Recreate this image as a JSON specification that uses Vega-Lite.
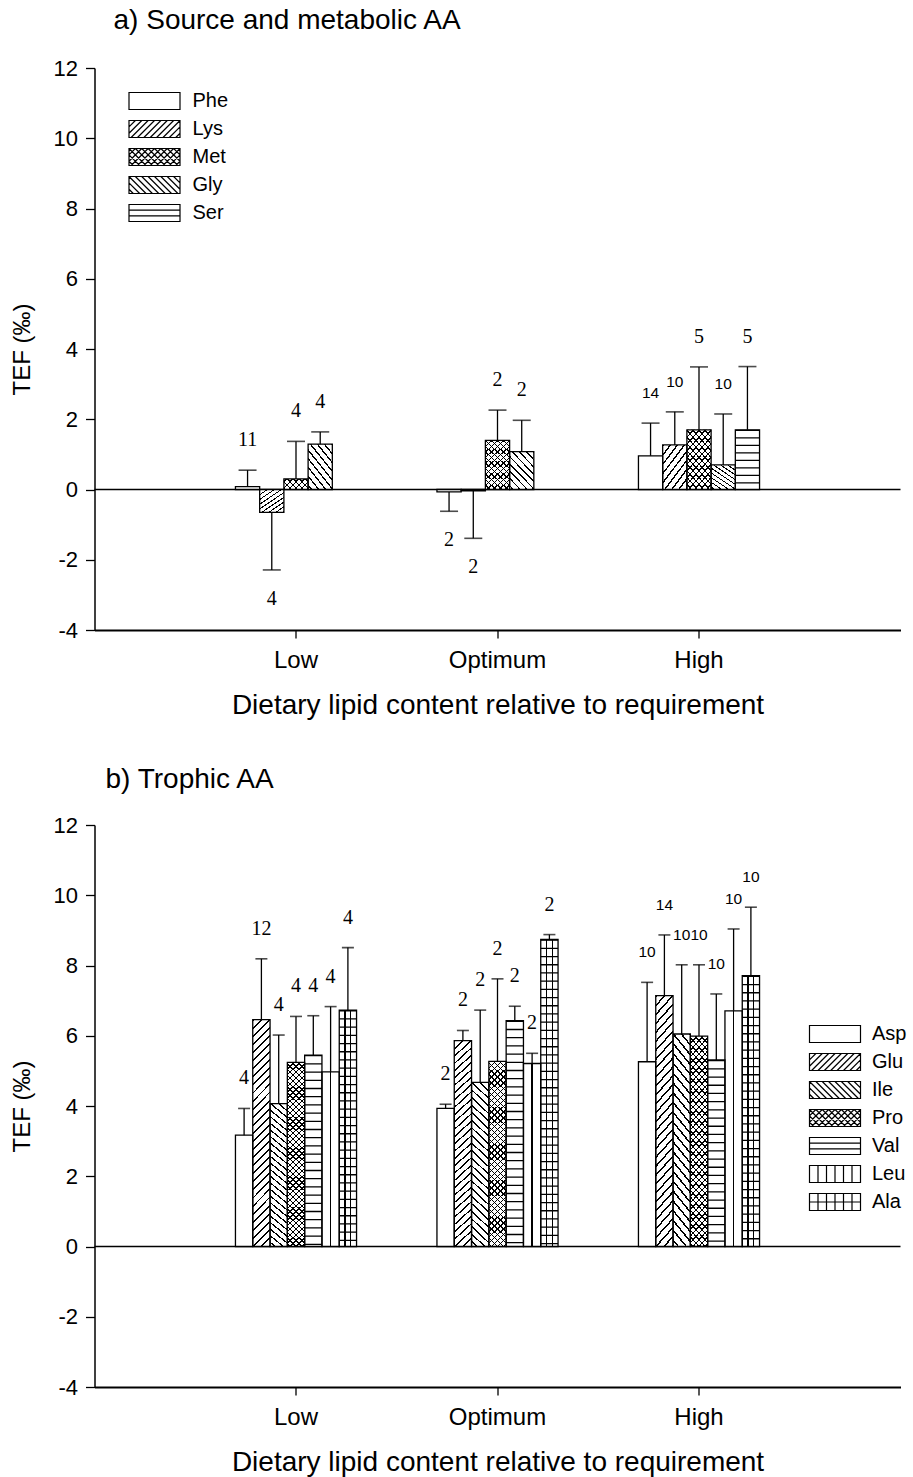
{
  "$schema": "https://vega.github.io/schema/vega-lite/v6.json",
  "padding": {"left": 9.5, "top": 7, "right": 2, "bottom": 1},
  "spacing": 47,
  "config": {
    "view": {"stroke": null},
    "font": "Liberation Sans",
    "axis": {"domainColor": "black", "tickColor": "black", "labelColor": "black", "titleColor": "black", "grid": false, "labelFont": "Liberation Sans", "titleFont": "Liberation Sans", "titleFontWeight": "normal"},
    "legend": {"labelFont": "Liberation Sans", "labelColor": "black"},
    "title": {"font": "Liberation Sans", "fontWeight": "normal", "color": "black"}
  },
  "params": [
    {"name": "hatch", "value": [
      {"offset": 0, "color": "#000"}, {"offset": 0.006, "color": "#000"}, {"offset": 0.006, "color": "transparent"}, {"offset": 0.025, "color": "transparent"},
      {"offset": 0.025, "color": "#000"}, {"offset": 0.031, "color": "#000"}, {"offset": 0.031, "color": "transparent"}, {"offset": 0.05, "color": "transparent"},
      {"offset": 0.05, "color": "#000"}, {"offset": 0.056, "color": "#000"}, {"offset": 0.056, "color": "transparent"}, {"offset": 0.075, "color": "transparent"},
      {"offset": 0.075, "color": "#000"}, {"offset": 0.081, "color": "#000"}, {"offset": 0.081, "color": "transparent"}, {"offset": 0.1, "color": "transparent"},
      {"offset": 0.1, "color": "#000"}, {"offset": 0.106, "color": "#000"}, {"offset": 0.106, "color": "transparent"}, {"offset": 0.125, "color": "transparent"},
      {"offset": 0.125, "color": "#000"}, {"offset": 0.131, "color": "#000"}, {"offset": 0.131, "color": "transparent"}, {"offset": 0.15, "color": "transparent"},
      {"offset": 0.15, "color": "#000"}, {"offset": 0.156, "color": "#000"}, {"offset": 0.156, "color": "transparent"}, {"offset": 0.175, "color": "transparent"},
      {"offset": 0.175, "color": "#000"}, {"offset": 0.181, "color": "#000"}, {"offset": 0.181, "color": "transparent"}, {"offset": 0.2, "color": "transparent"},
      {"offset": 0.2, "color": "#000"}, {"offset": 0.206, "color": "#000"}, {"offset": 0.206, "color": "transparent"}, {"offset": 0.225, "color": "transparent"},
      {"offset": 0.225, "color": "#000"}, {"offset": 0.231, "color": "#000"}, {"offset": 0.231, "color": "transparent"}, {"offset": 0.25, "color": "transparent"},
      {"offset": 0.25, "color": "#000"}, {"offset": 0.256, "color": "#000"}, {"offset": 0.256, "color": "transparent"}, {"offset": 0.275, "color": "transparent"},
      {"offset": 0.275, "color": "#000"}, {"offset": 0.281, "color": "#000"}, {"offset": 0.281, "color": "transparent"}, {"offset": 0.3, "color": "transparent"},
      {"offset": 0.3, "color": "#000"}, {"offset": 0.306, "color": "#000"}, {"offset": 0.306, "color": "transparent"}, {"offset": 0.325, "color": "transparent"},
      {"offset": 0.325, "color": "#000"}, {"offset": 0.331, "color": "#000"}, {"offset": 0.331, "color": "transparent"}, {"offset": 0.35, "color": "transparent"},
      {"offset": 0.35, "color": "#000"}, {"offset": 0.356, "color": "#000"}, {"offset": 0.356, "color": "transparent"}, {"offset": 0.375, "color": "transparent"},
      {"offset": 0.375, "color": "#000"}, {"offset": 0.381, "color": "#000"}, {"offset": 0.381, "color": "transparent"}, {"offset": 0.4, "color": "transparent"},
      {"offset": 0.4, "color": "#000"}, {"offset": 0.406, "color": "#000"}, {"offset": 0.406, "color": "transparent"}, {"offset": 0.425, "color": "transparent"},
      {"offset": 0.425, "color": "#000"}, {"offset": 0.431, "color": "#000"}, {"offset": 0.431, "color": "transparent"}, {"offset": 0.45, "color": "transparent"},
      {"offset": 0.45, "color": "#000"}, {"offset": 0.456, "color": "#000"}, {"offset": 0.456, "color": "transparent"}, {"offset": 0.475, "color": "transparent"},
      {"offset": 0.475, "color": "#000"}, {"offset": 0.481, "color": "#000"}, {"offset": 0.481, "color": "transparent"}, {"offset": 0.5, "color": "transparent"},
      {"offset": 0.5, "color": "#000"}, {"offset": 0.506, "color": "#000"}, {"offset": 0.506, "color": "transparent"}, {"offset": 0.525, "color": "transparent"},
      {"offset": 0.525, "color": "#000"}, {"offset": 0.531, "color": "#000"}, {"offset": 0.531, "color": "transparent"}, {"offset": 0.55, "color": "transparent"},
      {"offset": 0.55, "color": "#000"}, {"offset": 0.556, "color": "#000"}, {"offset": 0.556, "color": "transparent"}, {"offset": 0.575, "color": "transparent"},
      {"offset": 0.575, "color": "#000"}, {"offset": 0.581, "color": "#000"}, {"offset": 0.581, "color": "transparent"}, {"offset": 0.6, "color": "transparent"},
      {"offset": 0.6, "color": "#000"}, {"offset": 0.606, "color": "#000"}, {"offset": 0.606, "color": "transparent"}, {"offset": 0.625, "color": "transparent"},
      {"offset": 0.625, "color": "#000"}, {"offset": 0.631, "color": "#000"}, {"offset": 0.631, "color": "transparent"}, {"offset": 0.65, "color": "transparent"},
      {"offset": 0.65, "color": "#000"}, {"offset": 0.656, "color": "#000"}, {"offset": 0.656, "color": "transparent"}, {"offset": 0.675, "color": "transparent"},
      {"offset": 0.675, "color": "#000"}, {"offset": 0.681, "color": "#000"}, {"offset": 0.681, "color": "transparent"}, {"offset": 0.7, "color": "transparent"},
      {"offset": 0.7, "color": "#000"}, {"offset": 0.706, "color": "#000"}, {"offset": 0.706, "color": "transparent"}, {"offset": 0.725, "color": "transparent"},
      {"offset": 0.725, "color": "#000"}, {"offset": 0.731, "color": "#000"}, {"offset": 0.731, "color": "transparent"}, {"offset": 0.75, "color": "transparent"},
      {"offset": 0.75, "color": "#000"}, {"offset": 0.756, "color": "#000"}, {"offset": 0.756, "color": "transparent"}, {"offset": 0.775, "color": "transparent"},
      {"offset": 0.775, "color": "#000"}, {"offset": 0.781, "color": "#000"}, {"offset": 0.781, "color": "transparent"}, {"offset": 0.8, "color": "transparent"},
      {"offset": 0.8, "color": "#000"}, {"offset": 0.806, "color": "#000"}, {"offset": 0.806, "color": "transparent"}, {"offset": 0.825, "color": "transparent"},
      {"offset": 0.825, "color": "#000"}, {"offset": 0.831, "color": "#000"}, {"offset": 0.831, "color": "transparent"}, {"offset": 0.85, "color": "transparent"},
      {"offset": 0.85, "color": "#000"}, {"offset": 0.856, "color": "#000"}, {"offset": 0.856, "color": "transparent"}, {"offset": 0.875, "color": "transparent"},
      {"offset": 0.875, "color": "#000"}, {"offset": 0.881, "color": "#000"}, {"offset": 0.881, "color": "transparent"}, {"offset": 1, "color": "transparent"}
    ]},
    {"name": "gLys", "expr": "{gradient: 'linear', x1: 0, y1: 0, x2: 3.909, y2: 5.472, stops: hatch}"},
    {"name": "gGly", "expr": "{gradient: 'linear', x1: 1, y1: 0, x2: -2.56, y2: 5.34, stops: hatch}"},
    {"name": "gMet1", "expr": "{gradient: 'linear', x1: 0, y1: 0, x2: 1.698, y2: 3.736, stops: hatch}"},
    {"name": "gMet2", "expr": "{gradient: 'linear', x1: 1, y1: 0, x2: -0.698, y2: 3.736, stops: hatch}"},
    {"name": "gGlu", "expr": "{gradient: 'linear', x1: 0, y1: 0, x2: 0.1089, y2: 1.4154, stops: hatch}"},
    {"name": "gIle", "expr": "{gradient: 'linear', x1: 1, y1: 0, x2: 0.8168, y2: 1.832, stops: hatch}"},
    {"name": "gPro1", "expr": "{gradient: 'linear', x1: 0, y1: 0, x2: 0.1138, y2: 1.2517, stops: hatch}"},
    {"name": "gPro2", "expr": "{gradient: 'linear', x1: 1, y1: 0, x2: 0.8862, y2: 1.2517, stops: hatch}"},
    {"name": "gLeu", "expr": "{gradient: 'linear', x1: 0, y1: 0, x2: 1, y2: 0, stops: [{offset: 0, color: 'transparent'}, {offset: 0.46, color: 'transparent'}, {offset: 0.46, color: '#000'}, {offset: 0.54, color: '#000'}, {offset: 0.54, color: 'transparent'}, {offset: 1, color: 'transparent'}]}"},
    {"name": "gAla", "expr": "{gradient: 'linear', x1: 0, y1: 0, x2: 1, y2: 0, stops: [{offset: 0, color: 'transparent'}, {offset: 0.296, color: 'transparent'}, {offset: 0.296, color: '#000'}, {offset: 0.371, color: '#000'}, {offset: 0.371, color: 'transparent'}, {offset: 0.629, color: 'transparent'}, {offset: 0.629, color: '#000'}, {offset: 0.704, color: '#000'}, {offset: 0.704, color: 'transparent'}, {offset: 1, color: 'transparent'}]}"},
    {"name": "pBox", "value": "M-3,-1H3V1H-3Z"},
    {"name": "pSl", "value": "M-3,-0.25L-2.25,-1M-3,0.5L-1.5,-1M-2.75,1L-0.75,-1M-2,1L0,-1M-1.25,1L0.75,-1M-0.5,1L1.5,-1M0.25,1L2.25,-1M1,1L3,-1M1.75,1L3,-0.25M2.5,1L3,0.5"},
    {"name": "pBs", "value": "M3,-0.25L2.25,-1M3,0.5L1.5,-1M2.75,1L0.75,-1M2,1L0,-1M1.25,1L-0.75,-1M0.5,1L-1.5,-1M-0.25,1L-2.25,-1M-1,1L-3,-1M-1.75,1L-3,-0.25M-2.5,1L-3,0.5"},
    {"name": "pHz", "value": "M-3,-0.33H3M-3,0.33H3"},
    {"name": "pVt", "value": "M-2,-1V1M-1,-1V1M0,-1V1M1,-1V1M2,-1V1"},
    {"name": "pMid", "value": "M-3,0H3"}
  ],
  "datasets": {
    "source": [
      {"g": "Low", "aa": "Phe", "v": 0.08, "e": 0.55, "n": 11},
      {"g": "Low", "aa": "Lys", "v": -0.65, "e": -2.29, "n": 4},
      {"g": "Low", "aa": "Met", "v": 0.3, "e": 1.37, "n": 4},
      {"g": "Low", "aa": "Gly", "v": 1.29, "e": 1.64, "n": 4},
      {"g": "Optimum", "aa": "Phe", "v": -0.07, "e": -0.62, "n": 2},
      {"g": "Optimum", "aa": "Lys", "v": -0.04, "e": -1.39, "n": 2},
      {"g": "Optimum", "aa": "Met", "v": 1.4, "e": 2.26, "n": 2},
      {"g": "Optimum", "aa": "Gly", "v": 1.08, "e": 1.97, "n": 2},
      {"g": "High", "aa": "Phe", "v": 0.96, "e": 1.89, "n": 14},
      {"g": "High", "aa": "Lys", "v": 1.27, "e": 2.21, "n": 10},
      {"g": "High", "aa": "Met", "v": 1.7, "e": 3.49, "n": 5},
      {"g": "High", "aa": "Gly", "v": 0.7, "e": 2.15, "n": 10},
      {"g": "High", "aa": "Ser", "v": 1.7, "e": 3.5, "n": 5}
    ],
    "trophic": [
      {"g": "Low", "aa": "Asp", "v": 3.17, "e": 3.93, "n": 4},
      {"g": "Low", "aa": "Glu", "v": 6.46, "e": 8.19, "n": 12},
      {"g": "Low", "aa": "Ile", "v": 4.07, "e": 6.02, "n": 4},
      {"g": "Low", "aa": "Pro", "v": 5.24, "e": 6.55, "n": 4},
      {"g": "Low", "aa": "Val", "v": 5.45, "e": 6.57, "n": 4},
      {"g": "Low", "aa": "Leu", "v": 4.97, "e": 6.83, "n": 4},
      {"g": "Low", "aa": "Ala", "v": 6.73, "e": 8.51, "n": 4},
      {"g": "Optimum", "aa": "Asp", "v": 3.93, "e": 4.05, "n": 2},
      {"g": "Optimum", "aa": "Glu", "v": 5.86, "e": 6.15, "n": 2},
      {"g": "Optimum", "aa": "Ile", "v": 4.67, "e": 6.73, "n": 2},
      {"g": "Optimum", "aa": "Pro", "v": 5.27, "e": 7.62, "n": 2},
      {"g": "Optimum", "aa": "Val", "v": 6.43, "e": 6.84, "n": 2},
      {"g": "Optimum", "aa": "Leu", "v": 5.21, "e": 5.5, "n": 2},
      {"g": "Optimum", "aa": "Ala", "v": 8.74, "e": 8.88, "n": 2},
      {"g": "High", "aa": "Asp", "v": 5.26, "e": 7.52, "n": 10},
      {"g": "High", "aa": "Glu", "v": 7.14, "e": 8.87, "n": 14},
      {"g": "High", "aa": "Ile", "v": 6.05, "e": 8.02, "n": 10},
      {"g": "High", "aa": "Pro", "v": 5.99, "e": 8.02, "n": 10},
      {"g": "High", "aa": "Val", "v": 5.31, "e": 7.19, "n": 10},
      {"g": "High", "aa": "Leu", "v": 6.71, "e": 9.04, "n": 10},
      {"g": "High", "aa": "Ala", "v": 7.71, "e": 9.66, "n": 10}
    ]
  },
  "resolve": {"scale": {"fill": "independent", "xOffset": "independent", "x": "independent", "y": "independent"}, "legend": {"fill": "independent"}},
  "vconcat": [
    {
      "width": 806,
      "height": 562,
      "title": {"text": "a) Source and metabolic AA", "anchor": "start", "dx": 103.5, "fontSize": 28, "offset": 22},
      "layer": [
        {
          "data": {"values": [{}]},
          "mark": {"type": "rule", "strokeWidth": 1.4, "color": "black"},
          "encoding": {"y": {"datum": 0, "type": "quantitative"}}
        },
        {
          "data": {"name": "source"},
          "encoding": {
            "x": {"field": "g", "type": "nominal", "sort": ["Low", "Optimum", "High"], "scale": {"paddingInner": 0.399, "paddingOuter": 0.6995},
              "axis": {"title": "Dietary lipid content relative to requirement", "labelAngle": 0, "labelFontSize": 24, "titleFontSize": 28, "tickSize": 8, "tickWidth": 1.3, "domainWidth": 2, "labelPadding": 10, "titlePadding": 19}},
            "xOffset": {"field": "aa", "type": "nominal", "scale": {"domain": ["Phe", "Lys", "Met", "Gly", "Ser"], "paddingInner": 0, "paddingOuter": 0}},
            "y": {"field": "v", "type": "quantitative", "scale": {"domain": [-4, 12], "nice": false, "zero": false},
              "axis": {"title": "TEF (‰)", "values": [-4, -2, 0, 2, 4, 6, 8, 10, 12], "labelExpr": "'' + datum.value", "labelFontSize": 22, "titleFontSize": 24, "tickSize": 9, "tickWidth": 1.3, "domainWidth": 1.5, "labelPadding": 8, "titlePadding": 19}}
          },
          "layer": [
            {
              "mark": {"type": "bar"},
              "encoding": {
                "fill": {"field": "aa", "type": "nominal",
                  "scale": {"domain": ["Phe", "Lys", "Met", "Gly", "Ser"], "range": ["#ffffff", "#ffffff", "#ffffff", "#ffffff", "#ffffff"]},
                  "legend": {"title": null, "orient": "none", "legendX": 50, "legendY": 23, "symbolType": "M-3,-1H3V1H-3Z", "symbolSize": 289, "symbolStrokeWidth": 1.2, "symbolStrokeColor": "black", "symbolFillColor": "white", "labelFontSize": 20, "labelOffset": 28, "rowPadding": 6, "padding": 0,
                    "encode": {"symbols": {"update": {
                      "shape": {"signal": "datum.value=='Lys'?pBox+pSl:datum.value=='Met'?pBox+pSl+pBs:datum.value=='Gly'?pBox+pBs:datum.value=='Ser'?pBox+pHz:pBox"},
                      "fill": {"value": "white"}, "stroke": {"value": "black"}, "strokeWidth": {"value": 1.2}}}}}
                }
              }
            },
            {"transform": [{"filter": "datum.aa=='Lys'"}], "mark": {"type": "bar", "fill": {"expr": "gLys"}}},
            {"transform": [{"filter": "datum.aa=='Met'"}], "mark": {"type": "bar", "fill": {"expr": "gMet1"}}},
            {"transform": [{"filter": "datum.aa=='Met'"}], "mark": {"type": "bar", "fill": {"expr": "gMet2"}}},
            {"transform": [{"filter": "datum.aa=='Gly'"}], "mark": {"type": "bar", "fill": {"expr": "gGly"}}},
            {"transform": [{"filter": "datum.aa=='Ser'"}], "mark": {"type": "rule", "strokeWidth": 24.2, "strokeDash": [1.3, 6.2], "strokeCap": "butt", "color": "black"},
              "encoding": {"y2": {"datum": 0}}},
            {"mark": {"type": "bar", "fill": "transparent", "stroke": "black", "strokeWidth": 1.3}},
            {"mark": {"type": "rule", "strokeWidth": 1.3, "color": "black"}, "encoding": {"y2": {"field": "e"}}},
            {"mark": {"type": "tick", "size": 18, "thickness": 1.6, "color": "black"}, "encoding": {"y": {"field": "e", "type": "quantitative"}}},
            {"mark": {"type": "text", "baseline": "middle", "align": "center", "color": "black",
                "fontSize": {"expr": "datum.n == 10 || datum.n == 14 ? 15.5 : 20"},
                "dy": {"expr": "datum.e < datum.v ? 29 : -30"},
                "font": {"expr": "datum.n == 10 || datum.n == 14 ? 'Liberation Sans' : 'Liberation Serif'"}},
              "encoding": {"y": {"field": "e", "type": "quantitative"}, "text": {"field": "n", "type": "nominal"}}}
          ]
        }
      ]
    },
    {
      "width": 806,
      "height": 562,
      "title": {"text": "b) Trophic AA", "anchor": "start", "dx": 95.5, "fontSize": 28, "offset": 20},
      "layer": [
        {
          "data": {"values": [{}]},
          "mark": {"type": "rule", "strokeWidth": 1.4, "color": "black"},
          "encoding": {"y": {"datum": 0, "type": "quantitative"}}
        },
        {
          "data": {"name": "trophic"},
          "encoding": {
            "x": {"field": "g", "type": "nominal", "sort": ["Low", "Optimum", "High"], "scale": {"paddingInner": 0.399, "paddingOuter": 0.6995},
              "axis": {"title": "Dietary lipid content relative to requirement", "labelAngle": 0, "labelFontSize": 24, "titleFontSize": 28, "tickSize": 8, "tickWidth": 1.3, "domainWidth": 2, "labelPadding": 10, "titlePadding": 19}},
            "xOffset": {"field": "aa", "type": "nominal", "scale": {"domain": ["Asp", "Glu", "Ile", "Pro", "Val", "Leu", "Ala"], "paddingInner": 0, "paddingOuter": 0}},
            "y": {"field": "v", "type": "quantitative", "scale": {"domain": [-4, 12], "nice": false, "zero": false},
              "axis": {"title": "TEF (‰)", "values": [-4, -2, 0, 2, 4, 6, 8, 10, 12], "labelExpr": "'' + datum.value", "labelFontSize": 22, "titleFontSize": 24, "tickSize": 9, "tickWidth": 1.3, "domainWidth": 1.5, "labelPadding": 8, "titlePadding": 19}}
          },
          "layer": [
            {
              "mark": {"type": "bar"},
              "encoding": {
                "fill": {"field": "aa", "type": "nominal",
                  "scale": {"domain": ["Asp", "Glu", "Ile", "Pro", "Val", "Leu", "Ala"], "range": ["#ffffff", "#ffffff", "#ffffff", "#ffffff", "#ffffff", "#ffffff", "#ffffff"]},
                  "legend": {"title": null, "orient": "none", "legendX": 730.5, "legendY": 199, "symbolType": "M-3,-1H3V1H-3Z", "symbolSize": 289, "symbolStrokeWidth": 1.2, "symbolStrokeColor": "black", "symbolFillColor": "white", "labelFontSize": 20, "labelOffset": 27, "rowPadding": 6, "padding": 0,
                    "encode": {"symbols": {"update": {
                      "shape": {"signal": "datum.value=='Glu'?pBox+pSl:datum.value=='Ile'?pBox+pBs:datum.value=='Pro'?pBox+pSl+pBs:datum.value=='Val'?pBox+pHz:datum.value=='Leu'?pBox+pVt:datum.value=='Ala'?pBox+pVt+pMid:pBox"},
                      "fill": {"value": "white"}, "stroke": {"value": "black"}, "strokeWidth": {"value": 1.2}}}}}
                }
              }
            },
            {"transform": [{"filter": "datum.aa=='Glu'"}], "mark": {"type": "bar", "fill": {"expr": "gGlu"}}},
            {"transform": [{"filter": "datum.aa=='Pro'"}], "mark": {"type": "bar", "fill": {"expr": "gPro1"}}},
            {"transform": [{"filter": "datum.aa=='Pro'"}], "mark": {"type": "bar", "fill": {"expr": "gPro2"}}},
            {"transform": [{"filter": "datum.aa=='Ile'"}], "mark": {"type": "bar", "fill": {"expr": "gIle"}}},
            {"transform": [{"filter": "datum.aa=='Val' || datum.aa=='Ala'"}], "mark": {"type": "rule", "strokeWidth": 17.29, "strokeDash": [1.3, 6.9], "strokeCap": "butt", "color": "black"},
              "encoding": {"y2": {"datum": 0}}},
            {"transform": [{"filter": "datum.aa=='Leu'"}], "mark": {"type": "bar", "fill": {"expr": "gLeu"}}},
            {"transform": [{"filter": "datum.aa=='Ala'"}], "mark": {"type": "bar", "fill": {"expr": "gAla"}}},
            {"mark": {"type": "bar", "fill": "transparent", "stroke": "black", "strokeWidth": 1.3}},
            {"mark": {"type": "rule", "strokeWidth": 1.3, "color": "black"}, "encoding": {"y2": {"field": "e"}}},
            {"mark": {"type": "tick", "size": 12, "thickness": 1.6, "color": "black"}, "encoding": {"y": {"field": "e", "type": "quantitative"}}},
            {"mark": {"type": "text", "baseline": "middle", "align": "center", "color": "black",
                "fontSize": {"expr": "datum.n == 10 || datum.n == 14 ? 15.5 : 20"},
                "dy": {"expr": "datum.e < datum.v ? 29 : -30"},
                "font": {"expr": "datum.n == 10 || datum.n == 14 ? 'Liberation Sans' : 'Liberation Serif'"}},
              "encoding": {"y": {"field": "e", "type": "quantitative"}, "text": {"field": "n", "type": "nominal"}}}
          ]
        }
      ]
    }
  ]
}
